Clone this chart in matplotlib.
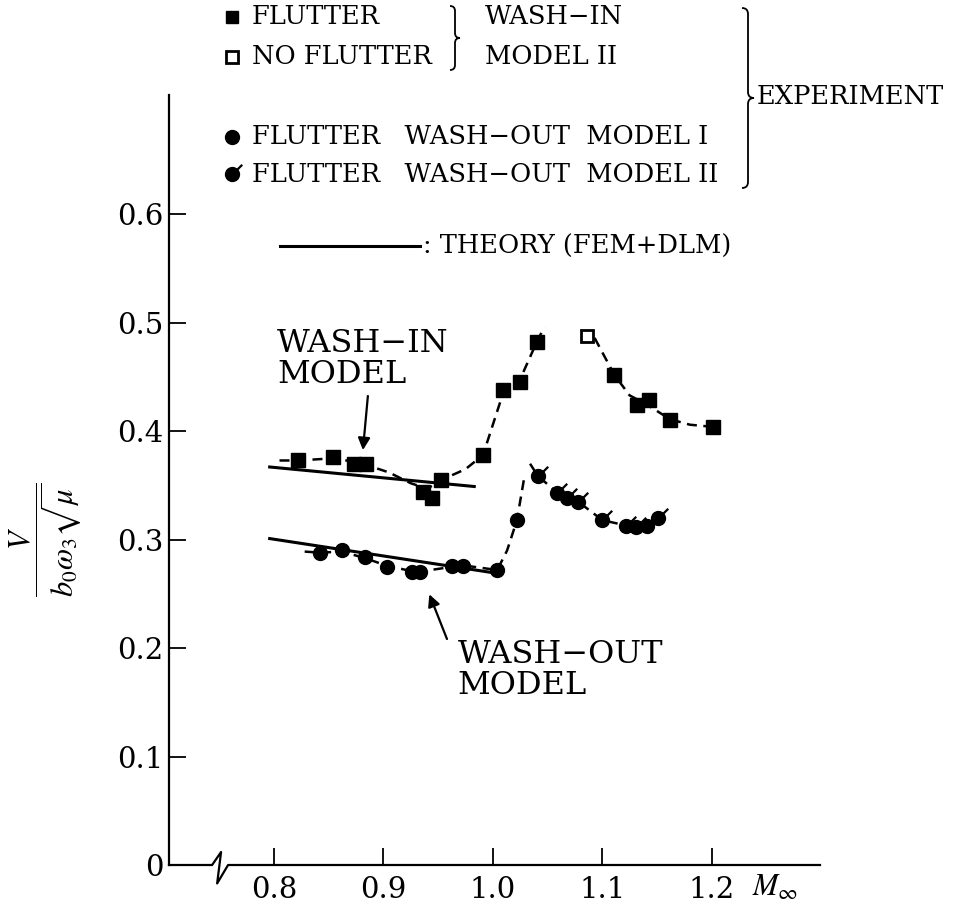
import numpy as np
import matplotlib.pyplot as plt
import matplotlib.transforms as mtransforms
from matplotlib.path import Path
from matplotlib.patches import PathPatch
from matplotlib.lines import Line2D

plt.rcParams['font.family'] = ['DejaVu Serif']
plt.rcParams['mathtext.fontset'] = 'stix'

# wash-in model II, flutter (filled squares)
washin_x = [0.822, 0.854, 0.873, 0.884, 0.936, 0.944, 0.953, 0.991, 1.009, 1.025, 1.040,
            1.111, 1.132, 1.143, 1.162, 1.201]
washin_y = [0.373, 0.376, 0.370, 0.370, 0.344, 0.338, 0.355, 0.378, 0.438, 0.445, 0.482,
            0.452, 0.424, 0.429, 0.410, 0.404]
# wash-in model II, no flutter (open square)
noflutter_x = [1.086]
noflutter_y = [0.488]

# wash-out model I / model II
washout1_x = [0.842, 0.862, 0.883, 0.903, 0.926, 0.933, 0.963, 0.973, 1.004, 1.022]
washout1_y = [0.288, 0.290, 0.284, 0.275, 0.270, 0.270, 0.276, 0.276, 0.272, 0.318]
washout2_x = [1.041, 1.059, 1.068, 1.078, 1.100, 1.122, 1.131, 1.141, 1.151]
washout2_y = [0.359, 0.343, 0.338, 0.335, 0.318, 0.313, 0.312, 0.313, 0.320]

# hand faired dashed curves
fair_in1_x = [0.805, 0.822, 0.854, 0.878, 0.905, 0.925, 0.940, 0.955, 0.975, 0.991, 1.009, 1.025, 1.040, 1.047]
fair_in1_y = [0.373, 0.373, 0.375, 0.371, 0.362, 0.352, 0.347, 0.356, 0.365, 0.378, 0.434, 0.448, 0.482, 0.496]
fair_in2_x = [1.093, 1.111, 1.125, 1.140, 1.162, 1.180, 1.201]
fair_in2_y = [0.486, 0.452, 0.433, 0.425, 0.411, 0.406, 0.404]
fair_out1_x = [0.828, 0.842, 0.862, 0.883, 0.903, 0.930, 0.963, 0.975, 1.004, 1.013, 1.022, 1.029]
fair_out1_y = [0.289, 0.288, 0.289, 0.283, 0.276, 0.270, 0.275, 0.276, 0.272, 0.290, 0.318, 0.359]
fair_out2_x = [1.034, 1.041, 1.059, 1.078, 1.100, 1.122, 1.141, 1.151, 1.159]
fair_out2_y = [0.370, 0.359, 0.343, 0.335, 0.318, 0.313, 0.313, 0.320, 0.327]

# theory (FEM+DLM)
theory_in_x = [0.796, 0.983]
theory_in_y = [0.367, 0.349]
theory_out_x = [0.796, 0.997]
theory_out_y = [0.301, 0.270]

xticks = [0.8, 0.9, 1.0, 1.1, 1.2]
yticks = [0, 0.1, 0.2, 0.3, 0.4, 0.5, 0.6]

W, H = 957, 913
fig = plt.figure(figsize=(W / 100, H / 100), dpi=100)
ax = fig.add_axes([169 / W, 48 / H, (820 - 169) / W, (865 - 95) / H])
ax.set_xlim(0.704, 1.299)
ax.set_ylim(0, 0.71)

# pixel coords (origin top-left) for the free-standing key
px = mtransforms.Affine2D().scale(1 / W, -1 / H).translate(0, 1) + fig.transFigure

dash = (0, (4, 2.6))
for fx, fy in [(fair_in1_x, fair_in1_y), (fair_in2_x, fair_in2_y),
               (fair_out1_x, fair_out1_y), (fair_out2_x, fair_out2_y)]:
    ax.plot(fx, fy, color='k', lw=1.8, linestyle=dash)

ax.plot(theory_in_x, theory_in_y, color='k', lw=2.2)
ax.plot(theory_out_x, theory_out_y, color='k', lw=2.2)

ax.plot(washin_x, washin_y, 's', color='k', ms=10)
ax.plot(noflutter_x, noflutter_y, 's', mfc='white', mec='k', mew=2, ms=9)
ax.plot(washout1_x, washout1_y, 'o', color='k', ms=10)
tick = Path([(0, 0), (1, 1)])
ax.plot(washout2_x, washout2_y, 'o', color='k', ms=10)
ax.plot(washout2_x, washout2_y, linestyle='none', marker=tick, ms=14, mfc='none', mec='k', mew=1.6)

# axes: left spine + broken bottom axis
for s in ['top', 'right', 'bottom']:
    ax.spines[s].set_visible(False)
ax.spines['left'].set_linewidth(1.6)
brk_x = [0.704, 0.7434, 0.7516, 0.748, 0.758, 1.299]
brk_y = [0.0, 0.0, 0.012, -0.017, 0.0, 0.0]
ax.plot(brk_x, brk_y, color='k', lw=1.6, clip_on=False)

ax.set_xticks(xticks)
ax.set_xticklabels(['0.8', '0.9', '1.0', '1.1', '1.2'])
ax.set_yticks(yticks)
ax.set_yticklabels(['0', '0.1', '0.2', '0.3', '0.4', '0.5', '0.6'])
ax.tick_params(axis='both', direction='in', length=12, width=1.3, labelsize=21)
ax.tick_params(axis='x', pad=8)
ax.tick_params(axis='y', pad=4)

# annotations
ax.annotate('WASH−IN\nMODEL', xy=(0.881, 0.380), xytext=(0.803, 0.467),
            fontsize=23, ha='left', va='center', linespacing=1.0)
ax.annotate('', xy=(0.881, 0.380), xytext=(0.886, 0.435),
            arrowprops=dict(arrowstyle='-|>', color='k', lw=1.6, mutation_scale=18))
ax.annotate('WASH−OUT\nMODEL', xy=(0.941, 0.252), xytext=(0.968, 0.180),
            fontsize=23, ha='left', va='center', linespacing=1.0)
ax.annotate('', xy=(0.941, 0.252), xytext=(0.959, 0.206),
            arrowprops=dict(arrowstyle='-|>', color='k', lw=1.6, mutation_scale=18))

# axis titles
fig.text(45, 540, r'$\dfrac{V}{b_0\omega_3\sqrt{\mu}}$', transform=px, rotation=90,
         fontsize=22, ha='center', va='center')
fig.text(775, 887, r'$M_\infty$', transform=px, fontsize=22, ha='center', va='center')


# key at the top
def ptext(x, y, s, size=18.5):
    fig.text(x, y, s, transform=px, fontsize=size, ha='left', va='center')


def brace(x, y0, y1, w):
    ym = (y0 + y1) / 2
    verts = [(x, y0), (x + w, y0), (x + w, y0 + w), (x + w, ym - w),
             (x + w, ym), (x + 2 * w, ym), (x + w, ym), (x + w, ym + w),
             (x + w, y1 - w), (x + w, y1), (x, y1)]
    codes = [Path.MOVETO, Path.CURVE3, Path.CURVE3, Path.LINETO,
             Path.CURVE3, Path.CURVE3, Path.CURVE3, Path.CURVE3,
             Path.LINETO, Path.CURVE3, Path.CURVE3]
    fig.add_artist(PathPatch(Path(verts, codes), transform=px, fc='none', ec='k', lw=1.3))


fig.add_artist(Line2D([232], [17], transform=px, marker='s', color='k', ms=9))
fig.add_artist(Line2D([232], [57], transform=px, marker='s', mfc='white', mec='k', mew=2, ms=8))
fig.add_artist(Line2D([232], [137], transform=px, marker='o', color='k', ms=10))
fig.add_artist(Line2D([232], [174], transform=px, marker='o', color='k', ms=10))
fig.add_artist(Line2D([232], [174], transform=px, marker=tick,
                      mfc='none', mec='k', mew=1.6, ms=14))
ptext(252, 17, 'FLUTTER')
ptext(252, 57, 'NO FLUTTER')
ptext(485, 17, 'WASH−IN')
ptext(485, 57, 'MODEL II')
ptext(252, 137, 'FLUTTER   WASH−OUT  MODEL I')
ptext(252, 174, 'FLUTTER   WASH−OUT  MODEL II')
ptext(757, 97, 'EXPERIMENT')
brace(450, 6, 70, 5)
brace(742, 8, 188, 6)
fig.add_artist(Line2D([280, 420], [246, 246], transform=px, color='k', lw=2.2))
ptext(423, 246, ': THEORY (FEM+DLM)')

fig.savefig('out.png', dpi=100)
